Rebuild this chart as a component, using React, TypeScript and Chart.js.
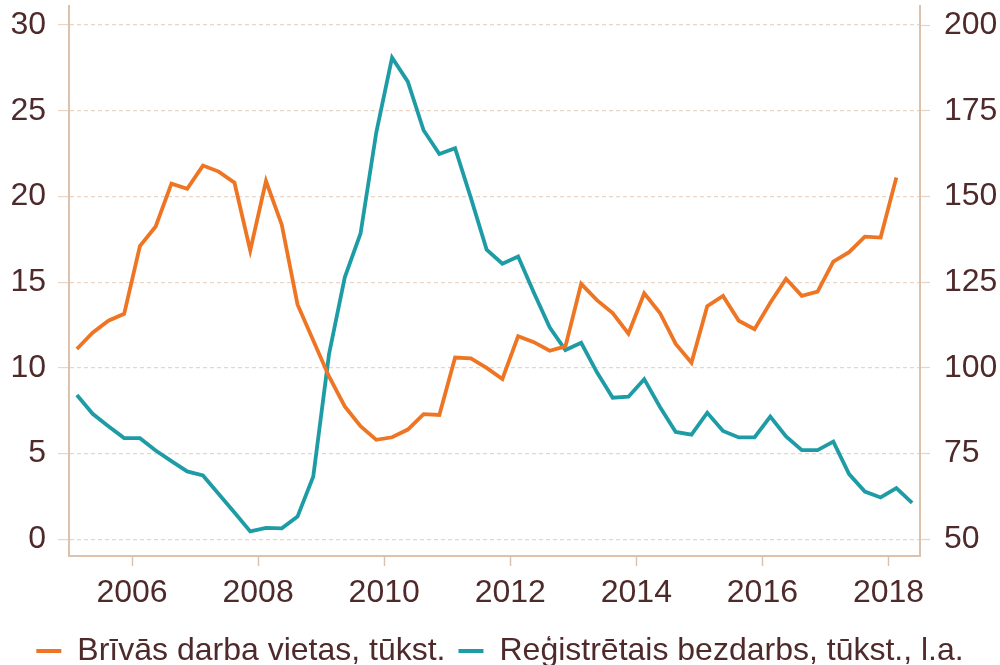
import React, { useEffect, useRef } from "react";
import { Chart, registerables } from "chart.js";

Chart.register(...registerables);

// Quarterly periods 2005Q1 – 2018Q2
const startYear = 2005;
const periods: string[] = [];
for (let y = 2005; y <= 2018; y++) for (let q = 1; q <= 4; q++) periods.push(`${y}Q${q}`);

// Brīvās darba vietas, tūkst. (left axis) 2005Q1 – 2018Q1
const vacancies = [
  11.1, 12.05, 12.75, 13.15,
  17.1, 18.25, 20.75, 20.45,
  21.8, 21.45, 20.8, 16.85,
  20.9, 18.35, 13.7, 11.6,
  9.5, 7.75, 6.6, 5.8,
  5.95, 6.4, 7.3, 7.25,
  10.6, 10.55, 10.0, 9.35,
  11.85, 11.5, 11.0, 11.25,
  14.9, 13.95, 13.2, 12.0,
  14.35, 13.2, 11.4, 10.3,
  13.6, 14.2, 12.75, 12.25,
  13.8, 15.2, 14.2, 14.45,
  16.2, 16.75, 17.65, 17.6,
  21.1,
];

// Reģistrētais bezdarbs, tūkst. (right axis) 2005Q1 – 2018Q2
const unemployment = [
  92.1, 86.6, 83.0, 79.5,
  79.5, 75.9, 72.8, 69.8,
  68.6, 63.2, 57.8, 52.3,
  53.3, 53.2, 56.6, 68.3,
  104.0, 126.4, 139.2, 168.7,
  190.5, 183.5, 169.3, 162.4,
  164.1, 149.6, 134.5, 130.4,
  132.5, 121.9, 111.8, 105.2,
  107.3, 98.7, 91.3, 91.6,
  96.7, 88.6, 81.3, 80.5,
  86.9, 81.6, 79.7, 79.7,
  85.8, 80.0, 76.0, 76.0,
  78.5, 69.0, 63.9, 62.2,
  64.9, 60.6,
];

const xTicks = [2006, 2008, 2010, 2012, 2014, 2016, 2018];
const leftTicks = [0, 5, 10, 15, 20, 25, 30];
const rightTicks = [50, 75, 100, 125, 150, 175, 200];

const seriesNames = ["Brīvās darba vietas, tūkst.", "Reģistrētais bezdarbs, tūkst., l.a."];

const ORANGE = "#ee7523";
const TEAL = "#1e9ca6";
const TEXT = "#4f2a2b";
const AXIS = "#dcc2ac";
const GRID = "#e7d5c6";
const FONT = "'Liberation Sans', Arial, sans-serif";
const FS = 32;

function periodToX(p: string): number {
  const y = parseInt(p.slice(0, 4), 10);
  const q = parseInt(p.slice(5), 10);
  return y + (q - 0.5) / 4;
}

function toPoints(values: number[]) {
  return values.map((v, i) => ({ x: periodToX(periods[i]), y: v }));
}

export default function App() {
  const ref = useRef<HTMLCanvasElement | null>(null);

  useEffect(() => {
    document.body.style.margin = "0";
    const canvas = ref.current!;
    const chart = new Chart(canvas, {
      type: "line",
      data: {
        datasets: [
          {
            label: seriesNames[0],
            data: toPoints(vacancies),
            borderColor: ORANGE,
            backgroundColor: ORANGE,
            borderWidth: 3.8,
            pointRadius: 0,
            tension: 0,
            yAxisID: "y",
          },
          {
            label: seriesNames[1],
            data: toPoints(unemployment),
            borderColor: TEAL,
            backgroundColor: TEAL,
            borderWidth: 3.8,
            pointRadius: 0,
            tension: 0,
            yAxisID: "y1",
          },
        ],
      },
      options: {
        responsive: false,
        animation: false,
        events: [],
        layout: { padding: { top: 6, left: 0, right: 0, bottom: -12 } },
        plugins: {
          tooltip: { enabled: false },
          legend: {
            position: "bottom",
            labels: {
              boxWidth: 25,
              boxHeight: 4,
              padding: 13,
              color: TEXT,
              font: { family: FONT, size: FS },
              generateLabels: (c: any) =>
                c.data.datasets.map((ds: any, i: number) => ({
                  text: ds.label,
                  fillStyle: ds.borderColor,
                  strokeStyle: ds.borderColor,
                  lineWidth: 0,
                  hidden: false,
                  datasetIndex: i,
                  fontColor: TEXT,
                })),
            },
          },
        },
        scales: {
          x: {
            type: "linear",
            min: startYear,
            max: 2018.5,
            afterBuildTicks: (s: any) => {
              s.ticks = xTicks.map((v) => ({ value: v }));
            },
            afterFit: (s: any) => {
              s.height = 66;
              s.paddingLeft = 0;
              s.paddingRight = 0;
            },
            grid: {
              drawOnChartArea: false,
              drawTicks: true,
              tickLength: 10,
              tickColor: AXIS,
              tickWidth: 1.5,
            },
            border: { display: true, color: AXIS, width: 2 },
            ticks: {
              color: TEXT,
              font: { family: FONT, size: FS },
              padding: 8,
              maxRotation: 0,
              autoSkip: false,
              callback: (v: any) => String(v),
            },
          },
          y: {
            type: "linear",
            position: "left",
            min: -0.976,
            max: 31.11,
            afterBuildTicks: (s: any) => {
              s.ticks = leftTicks.map((v) => ({ value: v }));
            },
            afterFit: (s: any) => {
              s.width = 69;
              s.paddingTop = 0;
              s.paddingBottom = 0;
            },
            grid: {
              color: GRID,
              lineWidth: 1.2,
              drawTicks: true,
              tickLength: 11,
              tickColor: GRID,
              tickWidth: 1.2,
            },
            border: { display: true, color: AXIS, width: 2, dash: [4, 3] },
            ticks: {
              color: TEXT,
              font: { family: FONT, size: FS },
              padding: 12,
              callback: (v: any) => String(v),
            },
          },
          y1: {
            type: "linear",
            position: "right",
            min: 45.12,
            max: 205.55,
            afterBuildTicks: (s: any) => {
              s.ticks = rightTicks.map((v) => ({ value: v }));
            },
            afterFit: (s: any) => {
              s.width = 80;
              s.paddingTop = 0;
              s.paddingBottom = 0;
            },
            grid: {
              drawOnChartArea: false,
              drawTicks: true,
              tickLength: 10,
              tickColor: GRID,
              tickWidth: 1.2,
            },
            border: { display: true, color: AXIS, width: 2 },
            ticks: {
              color: TEXT,
              font: { family: FONT, size: FS },
              padding: 14,
              callback: (v: any) => String(v),
            },
          },
        },
      },
    } as any);
    return () => chart.destroy();
  }, []);

  return (
    <div style={{ position: "absolute", left: 0, top: 0, width: 1000, height: 665 }}>
      <canvas ref={ref} width={1000} height={665} style={{ width: 1000, height: 665, display: "block" }} />
    </div>
  );
}
